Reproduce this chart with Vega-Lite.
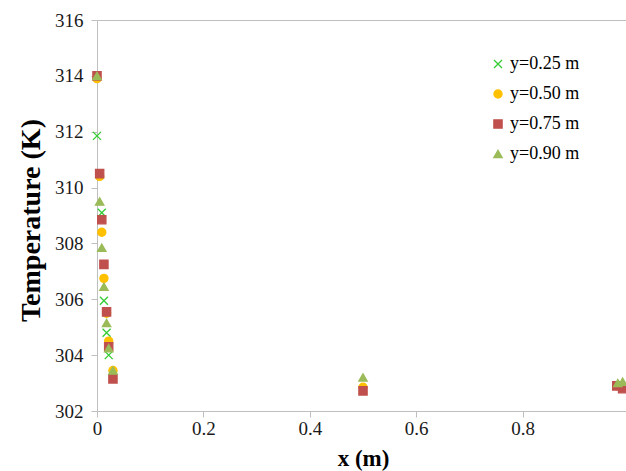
{
  "$schema": "https://vega.github.io/schema/vega-lite/v6.json",
  "width": 532,
  "height": 391,
  "autosize": {"type": "none"},
  "padding": {"left": 97, "top": 20, "right": -3, "bottom": 60},
  "background": "white",
  "config": {"view": {"stroke": null}, "font": "Times New Roman, Liberation Serif, serif"},
  "data": {
    "values": [
      {"series": "y=0.25 m", "x": 0.0, "T": 311.85},
      {"series": "y=0.25 m", "x": 0.009, "T": 309.1},
      {"series": "y=0.25 m", "x": 0.013, "T": 305.95},
      {"series": "y=0.25 m", "x": 0.018, "T": 304.8},
      {"series": "y=0.25 m", "x": 0.022, "T": 304.0},
      {"series": "y=0.25 m", "x": 0.03, "T": 303.3},
      {"series": "y=0.25 m", "x": 0.5, "T": 302.75},
      {"series": "y=0.25 m", "x": 0.98, "T": 302.9},
      {"series": "y=0.50 m", "x": 0.0, "T": 313.9},
      {"series": "y=0.50 m", "x": 0.005, "T": 310.4},
      {"series": "y=0.50 m", "x": 0.009, "T": 308.4},
      {"series": "y=0.50 m", "x": 0.013, "T": 306.75},
      {"series": "y=0.50 m", "x": 0.018, "T": 305.5},
      {"series": "y=0.50 m", "x": 0.022, "T": 304.5},
      {"series": "y=0.50 m", "x": 0.03, "T": 303.45},
      {"series": "y=0.50 m", "x": 0.5, "T": 302.85},
      {"series": "y=0.50 m", "x": 0.98, "T": 302.9},
      {"series": "y=0.75 m", "x": 0.0, "T": 314.0},
      {"series": "y=0.75 m", "x": 0.005, "T": 310.5},
      {"series": "y=0.75 m", "x": 0.009, "T": 308.85},
      {"series": "y=0.75 m", "x": 0.013, "T": 307.25},
      {"series": "y=0.75 m", "x": 0.018, "T": 305.55},
      {"series": "y=0.75 m", "x": 0.022, "T": 304.3},
      {"series": "y=0.75 m", "x": 0.03, "T": 303.15},
      {"series": "y=0.75 m", "x": 0.5, "T": 302.72},
      {"series": "y=0.75 m", "x": 0.977, "T": 302.9},
      {"series": "y=0.75 m", "x": 0.988, "T": 302.8},
      {"series": "y=0.90 m", "x": 0.0, "T": 314.0},
      {"series": "y=0.90 m", "x": 0.005, "T": 309.5},
      {"series": "y=0.90 m", "x": 0.009, "T": 307.85},
      {"series": "y=0.90 m", "x": 0.013, "T": 306.45},
      {"series": "y=0.90 m", "x": 0.018, "T": 305.15},
      {"series": "y=0.90 m", "x": 0.022, "T": 304.25},
      {"series": "y=0.90 m", "x": 0.03, "T": 303.45},
      {"series": "y=0.90 m", "x": 0.5, "T": 303.2},
      {"series": "y=0.90 m", "x": 0.979, "T": 303.0},
      {"series": "y=0.90 m", "x": 0.988, "T": 303.05}
    ]
  },
  "mark": {"type": "point", "filled": true, "opacity": 1, "strokeWidth": 1.3},
  "encoding": {
    "x": {
      "field": "x",
      "type": "quantitative",
      "scale": {"domain": [0, 1], "nice": false, "zero": false},
      "axis": {
        "title": "x (m)",
        "titleFont": "Times New Roman, Liberation Serif, serif",
        "titleFontSize": 23,
        "titleFontWeight": "bold",
        "titleColor": "#000",
        "titlePadding": 9,
        "labelFont": "Times New Roman, Liberation Serif, serif",
        "labelFontSize": 19,
        "labelColor": "#1a1a1a",
        "labelPadding": 2,
        "labelFlush": false,
        "labelOverlap": false,
        "values": [0, 0.2, 0.4, 0.6, 0.8, 1],
        "format": "~g",
        "tickSize": 6,
        "tickColor": "#bfbfbf",
        "domainColor": "#bfbfbf",
        "grid": false
      }
    },
    "y": {
      "field": "T",
      "type": "quantitative",
      "scale": {"domain": [302, 316], "nice": false, "zero": false},
      "axis": {
        "title": "Temperature (K)",
        "titleFont": "Times New Roman, Liberation Serif, serif",
        "titleFontSize": 28,
        "titleFontWeight": "bold",
        "titleColor": "#000",
        "titlePadding": 9,
        "titleY": 200,
        "labelFont": "Times New Roman, Liberation Serif, serif",
        "labelFontSize": 19,
        "labelColor": "#1a1a1a",
        "labelPadding": 8,
        "values": [302, 304, 306, 308, 310, 312, 314, 316],
        "format": "d",
        "tickSize": 6,
        "tickColor": "#bfbfbf",
        "domainColor": "#bfbfbf",
        "grid": true,
        "gridColor": "#bfbfbf",
        "gridOpacity": {"condition": {"test": "datum.value == 316", "value": 1}, "value": 0}
      }
    },
    "color": {
      "field": "series",
      "type": "nominal",
      "scale": {
        "domain": ["y=0.25 m", "y=0.50 m", "y=0.75 m", "y=0.90 m"],
        "range": ["#33cc33", "#ffc000", "#c0504d", "#9bbb59"]
      },
      "legend": {
        "orient": "none",
        "legendX": 392,
        "legendY": 35,
        "title": null,
        "padding": 0,
        "labelFont": "Times New Roman, Liberation Serif, serif",
        "labelFontSize": 18,
        "labelColor": "#000",
        "labelOffset": 3,
        "rowPadding": 12,
        "symbolSize": 100,
        "symbolStrokeWidth": 1.3
      }
    },
    "stroke": {
      "field": "series",
      "type": "nominal",
      "scale": {
        "domain": ["y=0.25 m", "y=0.50 m", "y=0.75 m", "y=0.90 m"],
        "range": ["#33cc33", "#ffc000", "#c0504d", "#9bbb59"]
      }
    },
    "shape": {
      "field": "series",
      "type": "nominal",
      "scale": {
        "domain": ["y=0.25 m", "y=0.50 m", "y=0.75 m", "y=0.90 m"],
        "range": ["M-1,-1L1,1M-1,1L1,-1", "circle", "square", "triangle-up"]
      }
    },
    "size": {
      "field": "series",
      "type": "nominal",
      "scale": {
        "domain": ["y=0.25 m", "y=0.50 m", "y=0.75 m", "y=0.90 m"],
        "range": [64, 70, 190, 200]
      },
      "legend": null
    },
    "order": {"field": "series", "type": "nominal"}
  }
}
